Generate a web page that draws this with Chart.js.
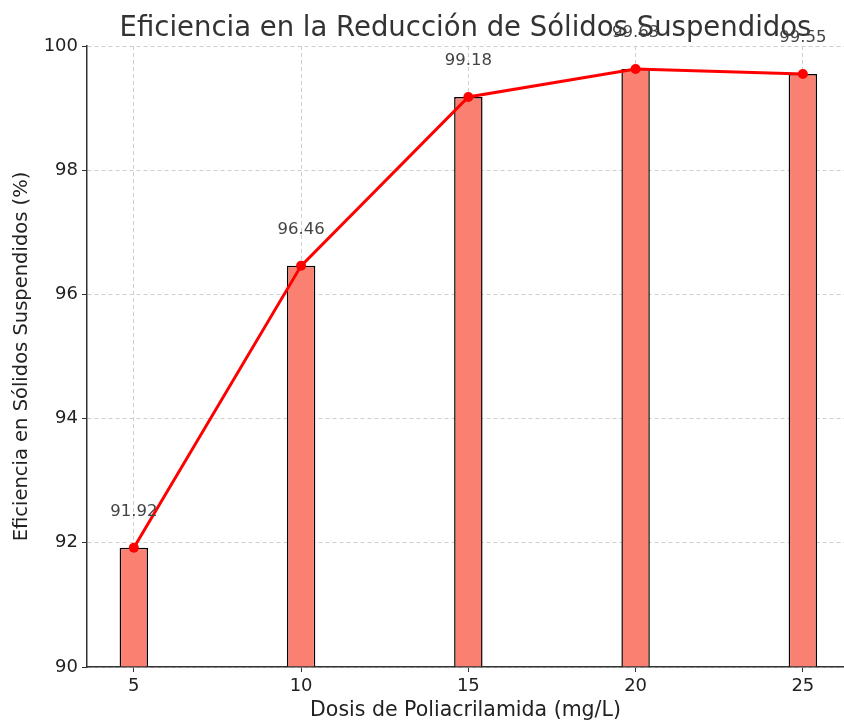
<!DOCTYPE html>
<html>
<head>
<meta charset="utf-8">
<script src="https://cdn.jsdelivr.net/npm/chart.js@4.4.0/dist/chart.umd.min.js"></script>
<style>
  html, body { margin: 0; padding: 0; background: #fff; }
</style>
</head>
<body>
<canvas id="grafico" width="844" height="720"></canvas>
<script>
const dosis = [5, 10, 15, 20, 25];
const eficiencia = [91.92, 96.46, 99.18, 99.63, 99.55];
const xTicks = [5, 10, 15, 20, 25];
const yTicks = [90, 92, 94, 96, 98, 100];

const puntos = dosis.map((d, i) => ({ x: d, y: eficiencia[i] }));
const fuente = '"DejaVu Sans", sans-serif';

// etiquetas de valor encima de cada punto
const etiquetas = {
  id: 'etiquetas',
  afterDatasetsDraw(chart) {
    const { ctx, scales: { x, y } } = chart;
    ctx.save();
    ctx.font = '16.5px ' + fuente;
    ctx.fillStyle = '#444';
    ctx.textAlign = 'center';
    ctx.textBaseline = 'bottom';
    puntos.forEach(p => {
      ctx.fillText(p.y.toFixed(2), x.getPixelForValue(p.x), y.getPixelForValue(p.y + 0.5) + 3);
    });
    ctx.restore();
  }
};

new Chart(document.getElementById('grafico').getContext('2d'), {
  type: 'bar',
  data: {
    datasets: [
      {
        type: 'line',
        data: puntos,
        borderColor: '#ff0000',
        backgroundColor: '#ff0000',
        borderWidth: 3,
        pointRadius: 5,
        pointBorderWidth: 0,
        tension: 0,
        order: 0
      },
      {
        type: 'bar',
        data: puntos,
        base: 90,
        backgroundColor: '#fa8072',
        borderColor: '#000',
        borderWidth: 1.5,
        borderSkipped: 'start',
        barPercentage: 0.17,
        categoryPercentage: 1,
        order: 1
      }
    ]
  },
  options: {
    responsive: false,
    animation: false,
    devicePixelRatio: 1,
    layout: { padding: 0, autoPadding: false },
    plugins: {
      legend: { display: false },
      tooltip: { enabled: false },
      title: {
        display: true,
        text: 'Eficiencia en la Reducción de Sólidos Suspendidos',
        fullSize: false,
        color: '#333',
        font: { family: fuente, size: 27.5, weight: 'normal' },
        padding: { top: 12, bottom: 1 }
      }
    },
    scales: {
      x: {
        type: 'linear',
        offset: false,
        min: 3.6,
        max: 26.23,
        afterBuildTicks: s => { s.ticks = xTicks.map(v => ({ value: v })); },
        afterFit: s => { s.height = 53; },
        ticks: { color: '#222', padding: 4, font: { family: fuente, size: 18 } },
        grid: { offset: false, color: '#cfcfcf', lineWidth: 1, tickLength: 5, tickColor: '#333', tickBorderDash: [] },
        border: { color: '#333', width: 1.5, dash: [4, 3] },
        title: {
          display: true,
          text: 'Dosis de Poliacrilamida (mg/L)',
          color: '#222',
          font: { family: fuente, size: 20.5 },
          padding: { top: 0, bottom: -3 }
        }
      },
      y: {
        min: 90,
        max: 100,
        afterBuildTicks: s => { s.ticks = yTicks.map(v => ({ value: v })); },
        afterFit: s => { s.width = 87; },
        ticks: { color: '#222', padding: 4, font: { family: fuente, size: 18 } },
        grid: { color: '#cfcfcf', lineWidth: 1, tickLength: 5, tickColor: '#333', tickBorderDash: [] },
        border: { color: '#333', width: 1.5, dash: [4, 3] },
        title: {
          display: true,
          text: 'Eficiencia en Sólidos Suspendidos (%)',
          color: '#222',
          font: { family: fuente, size: 19.5 },
          padding: { top: 10, bottom: 0 }
        }
      }
    }
  },
  plugins: [etiquetas]
});
</script>
</body>
</html>
